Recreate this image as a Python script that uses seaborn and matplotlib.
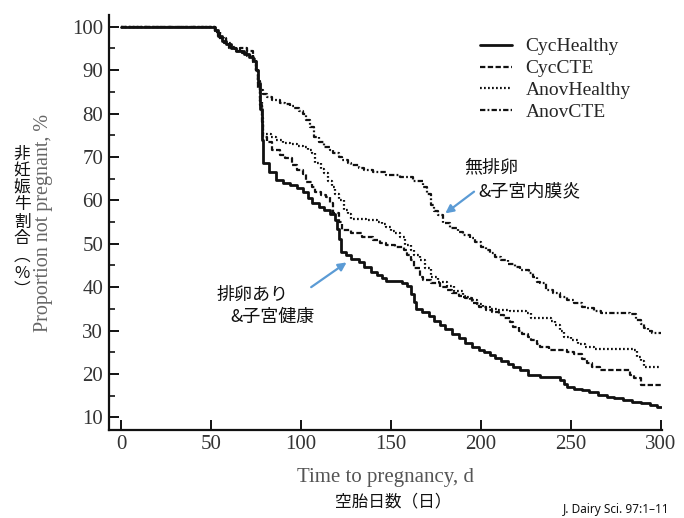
import numpy as np
import pandas as pd
import seaborn as sns
import matplotlib
matplotlib.use("Agg")
import matplotlib.pyplot as plt

# Kaplan-Meier curves (day, % not pregnant)
ch_day = [0, 52, 54, 56, 58, 61, 64, 68, 71, 73,
          75, 76, 77, 78, 79, 82, 86, 90, 94, 98,
          101, 104, 106, 110, 113, 116, 119, 120, 121, 122,
          125, 128, 132, 135, 139, 142, 145, 147, 156, 159,
          161, 163, 164, 167, 171, 174, 177, 180, 184, 188,
          191, 195, 199, 202, 205, 208, 211, 215, 218, 222,
          226, 233, 244, 246, 248, 252, 256, 260, 265, 270,
          274, 279, 284, 289, 294, 298, 300]
ch_val = [100, 99.2, 97.8, 96.8, 96, 95.2, 94.5, 93.8, 93, 92,
          90, 87, 81, 74, 68.5, 66.5, 64.7, 64, 63.5, 62.8,
          62, 60.5, 59.3, 58.5, 57.8, 56.8, 55.5, 53.5, 51, 48.2,
          47.3, 46.6, 45.7, 44.7, 43.6, 42.8, 42, 41.4, 41, 40.2,
          38.5, 36.5, 35, 34.2, 33.4, 32.3, 31.3, 30.3, 29.3, 28.3,
          27.2, 26.3, 25.6, 25, 24.3, 23.6, 23, 22.3, 21.7, 20.9,
          19.7, 19.4, 18.6, 17.6, 17, 16.6, 16.3, 15.8, 15.1, 14.7,
          14.4, 14, 13.6, 13.2, 12.8, 12.4, 12.3]

cc_day = [0, 52, 54, 57, 60, 63, 66, 70, 73, 75,
          76, 77, 78, 79, 81, 84, 88, 91, 95, 98,
          101, 103, 106, 108, 111, 114, 116, 118, 121, 123,
          128, 134, 140, 144, 147, 152, 157, 159, 161, 163,
          166, 168, 172, 177, 181, 184, 188, 191, 195, 199,
          203, 206, 210, 213, 216, 218, 221, 223, 226, 228,
          231, 233, 238, 248, 252, 256, 259, 262, 266, 283,
          285, 289, 300]
cc_val = [100, 99, 97.5, 96.2, 95.2, 94.8, 95, 94.3, 92.5, 90,
          86, 82, 78, 74.5, 73.5, 71.6, 70.5, 69.7, 68.2, 67,
          66, 64.3, 63, 62, 61.3, 60.8, 59.5, 57, 55, 53.1,
          52.4, 51.5, 50.8, 50.2, 49.7, 49.2, 48.5, 47.5, 46.2, 44.5,
          42.4, 41.6, 41, 40.1, 39.3, 38.6, 37.9, 37.4, 36.3, 35.5,
          34.8, 34.2, 33.5, 32.8, 32, 30.9, 30, 29.3, 28.5, 27.8,
          27, 26.3, 25.5, 25.1, 24.5, 23.4, 22.6, 21.7, 20.9, 19.8,
          19, 17.4, 17.4]

ah_day = [0, 52, 55, 58, 61, 64, 67, 70, 73, 75,
          76, 77, 78, 79, 83, 86, 90, 94, 98, 101,
          104, 106, 108, 111, 113, 115, 117, 119, 121, 124,
          126, 128, 136, 142, 145, 147, 150, 152, 155, 158,
          161, 163, 166, 169, 172, 176, 181, 185, 190, 194,
          198, 201, 205, 209, 216, 225, 228, 239, 241, 244,
          246, 250, 254, 258, 263, 285, 287, 289, 291, 300]
ah_val = [100, 98.8, 97.5, 96.2, 95.3, 94.5, 94, 93.5, 92, 90,
          87, 83, 79, 75.4, 74.5, 73.9, 73.3, 73, 72.6, 72.4,
          71.5, 70.8, 68.5, 67.2, 66.2, 64.5, 63.1, 61.5, 60, 57.8,
          56.8, 55.8, 55.5, 55, 54.5, 53.9, 53, 52.4, 51.5, 49.8,
          48.5, 47.5, 46.2, 44.3, 42.4, 41.2, 40.2, 39, 37.8, 37,
          36.2, 35.5, 35, 34.7, 34.5, 34, 32.9, 32.2, 31.3, 30,
          28.6, 27.8, 26.9, 26.3, 25.7, 25.5, 24, 23, 21.6, 21.6]

ac_day = [0, 52, 55, 58, 61, 64, 67, 70, 73, 75,
          76, 77, 79, 81, 84, 88, 91, 94, 96, 99,
          101, 103, 105, 107, 110, 113, 116, 118, 121, 123,
          126, 128, 132, 135, 140, 147, 155, 162, 168, 170,
          172, 174, 176, 179, 183, 187, 190, 194, 197, 200,
          203, 205, 208, 211, 215, 219, 222, 227, 229, 231,
          233, 236, 240, 244, 248, 252, 256, 259, 263, 267,
          283, 286, 289, 291, 293, 295, 300]
ac_val = [100, 99, 97.5, 96, 95, 94.5, 94, 93.2, 91.8, 89.8,
          87.4, 85.5, 84.6, 83.8, 83.1, 82.5, 82.3, 81.7, 81.2, 80.5,
          80, 78.5, 76.8, 74.7, 73.5, 72.4, 71.6, 70.8, 70, 69.3,
          68.6, 68.1, 67.4, 67, 66.6, 65.8, 65.4, 64.4, 63.1, 61.5,
          59, 57.5, 56.6, 54.8, 53.6, 52.8, 52, 51.3, 50.5, 49.3,
          48.5, 47.8, 47, 46.2, 45.3, 44.7, 43.9, 43.2, 42.4, 41.3,
          40.9, 39.3, 38.6, 37.8, 37, 36.3, 35.5, 35.1, 34.4, 34,
          33.9, 32.4, 31.5, 30.6, 29.9, 29.4, 29.4]

groups = ["CycHealthy", "CycCTE", "AnovHealthy", "AnovCTE"]
days = [ch_day, cc_day, ah_day, ac_day]
vals = [ch_val, cc_val, ah_val, ac_val]
x_ticks = [0, 50, 100, 150, 200, 250, 300]
y_ticks = [10, 20, 30, 40, 50, 60, 70, 80, 90, 100]

styles = {
    "CycHealthy": dict(lw=2.0, linestyle="-"),
    "CycCTE": dict(lw=1.6, linestyle=(0, (2.4, 1.1))),
    "AnovHealthy": dict(lw=1.6, linestyle=(0, (0.8, 1.0))),
    "AnovCTE": dict(lw=1.6, linestyle=(0, (2.4, 1.0, 0.8, 1.0))),
}

sns.set_theme(style="ticks")
plt.rcParams["font.family"] = ["Liberation Serif", "DejaVu Sans"]
jp = ["Noto Sans CJK JP", "DejaVu Sans"]

fig = plt.figure(figsize=(6.84, 5.18), dpi=100)
ax = fig.add_axes([0.160, 0.170, 0.808, 0.801])

for g, d, v in zip(groups, days, vals):
    df = pd.DataFrame({"day": d, "pct": v})
    sns.lineplot(data=df, x="day", y="pct", ax=ax, color="#111111",
                 drawstyle="steps-post", estimator=None, label=g, **styles[g])

ax.set_xlim(-6.6, 300.8)
ax.set_ylim(7.1, 102.7)
ax.set_xticks(x_ticks)
ax.set_yticks(y_ticks)
ax.set_yticks(np.arange(15, 100, 10), minor=True)
sns.despine(ax=ax)
for s in ["left", "bottom"]:
    ax.spines[s].set_linewidth(1.6)
    ax.spines[s].set_color("#111111")
ax.tick_params(axis="both", which="major", direction="in", length=7, width=1.4,
               labelsize=15, labelcolor="#333333", color="#111111")
ax.tick_params(axis="y", which="minor", direction="in", length=4.3, width=1.2,
               color="#111111")
ax.tick_params(axis="y", pad=4.5)
ax.tick_params(axis="x", pad=4)

ax.set_xlabel("Time to pregnancy, d", fontsize=15, color="#555555", labelpad=10)
ax.set_ylabel("Proportion not pregnant, %", fontsize=14.5, color="#666666", labelpad=14)

ax.legend(loc="upper left", bbox_to_anchor=(0.67, 0.945), frameon=False,
          fontsize=14, handlelength=1.65, handletextpad=0.7, labelspacing=0.22,
          borderpad=0, borderaxespad=0)

arrow_kw = dict(arrowstyle="-|>", color="#5b9bd5", lw=1.6, mutation_scale=12,
                shrinkA=0, shrinkB=0)
ax.annotate("", xy=(125.3, 45.7), xytext=(105.6, 40.0), arrowprops=arrow_kw)
ax.annotate("", xy=(180.2, 57.0), xytext=(196.2, 62.0), arrowprops=arrow_kw)

ax.text(72.7, 38.2, "排卵あり", family=jp, fontsize=13, ha="center", va="center", color="#111111")
ax.text(84.0, 33.1, "&子宮健康", family=jp, fontsize=13, ha="center", va="center", color="#111111")
ax.text(206.0, 67.7, "無排卵", family=jp, fontsize=13, ha="center", va="center", color="#111111")
ax.text(227.3, 62.0, "&子宮内膜炎", family=jp, fontsize=13, ha="center", va="center", color="#111111")

fig.text(22 / 684, 1 - 222 / 518, "\n".join("非妊娠牛割合︵%︶"), family=jp,
         fontsize=12, ha="center", va="center", linespacing=1.0, color="#111111")
fig.text(393 / 684, 1 - 502 / 518, "空胎日数（日）", family=jp, fontsize=12,
         ha="center", va="center", color="#111111")
fig.text(669 / 684, 1 - 510 / 518, "J. Dairy Sci. 97:1–11", family=["Noto Sans", "DejaVu Sans"],
         fontsize=8.5, fontweight="bold", ha="right", va="center", color="#111111")

fig.savefig("out.png", dpi=100)
